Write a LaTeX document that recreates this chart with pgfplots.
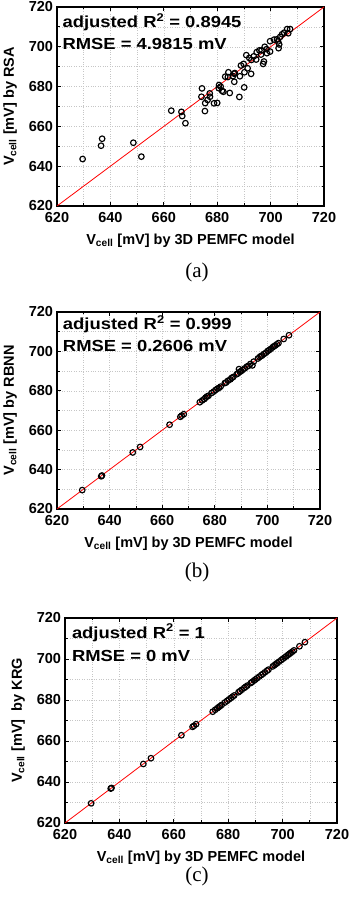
\documentclass[border=0pt]{standalone}
\usepackage{pgfplots}
\pgfplotsset{compat=1.18}
\usepackage{fontspec}
\setmainfont{Liberation Sans}
\newfontfamily\timesf{Liberation Serif}
\newfontfamily\annfont{Liberation Sans}[FakeStretch=1.15]

\pgfplotstableread{
x y
629.6 643.6
636.5 650.3
636.9 653.8
648.6 651.8
651.6 644.8
662.8 667.9
666.6 667.3
666.9 665.2
668.1 661.6
674.3 679.1
674.1 674.9
675.5 671.7
675.4 667.7
676.4 673.3
677.2 676.6
677.3 674.9
678.8 671.6
680.0 671.8
680.7 680.8
681.3 680.0
681.8 677.9
682.3 677.4
683.0 685.0
684.2 687.2
684.7 676.8
685.9 685.3
686.4 682.4
686.6 686.8
688.3 674.8
688.5 685.2
688.9 690.6
689.9 691.4
690.2 687.2
690.1 679.6
690.9 695.8
691.4 689.2
692.7 686.4
692.8 693.4
693.7 695.2
694.8 697.3
694.6 693.6
695.8 698.2
696.4 696.1
697.2 691.4
697.5 692.6
697.8 700.0
698.6 696.8
699.8 697.6
699.8 702.8
701.3 703.6
702.4 703.8
702.8 702.7
703.2 701.2
703.0 699.3
703.6 705.0
704.3 706.3
705.1 707.1
706.2 708.9
706.6 706.8
707.3 708.9
698.5 698.8
696.6 698.2
692.0 694.4
686.3 686.5
684.0 684.8
680.6 679.2
}\dataA

\pgfplotstableread{
x y
629.6 629.6
636.8 636.6
637.1 637.0
648.8 648.7
651.6 651.5
662.8 662.8
666.9 666.8
667.4 667.4
668.2 668.1
674.3 674.2
675.2 675.1
676.0 675.8
676.5 676.5
677.0 677.1
677.6 677.5
678.8 678.9
679.6 679.6
680.3 680.4
681.0 681.1
681.6 681.5
682.2 682.1
683.8 683.9
684.3 684.2
685.0 685.1
685.9 685.8
686.4 686.5
687.0 687.0
688.3 688.4
688.8 688.8
689.2 691.0
689.5 689.6
690.0 690.0
690.6 690.6
691.4 691.4
692.2 692.3
692.8 692.7
693.5 693.6
694.3 692.9
694.8 694.8
696.4 696.4
697.0 697.1
697.5 697.6
698.0 697.9
698.7 698.7
699.5 699.4
700.1 700.2
700.7 700.7
701.3 701.3
702.0 702.1
702.5 702.6
703.0 703.0
703.6 703.6
704.2 704.2
706.2 706.3
708.2 708.2
}\dataB

\pgfplotstableread{
x y
629.6 629.6
636.8 636.8
637.1 637.1
648.8 648.8
651.6 651.6
662.8 662.8
666.9 666.9
667.4 667.4
668.2 668.2
674.3 674.3
675.2 675.2
676.0 676.0
676.5 676.5
677.0 677.0
677.6 677.6
678.8 678.8
679.6 679.6
680.3 680.3
681.0 681.0
681.6 681.6
682.2 682.2
683.8 683.8
684.3 684.3
685.0 685.0
685.9 685.9
686.4 686.4
687.0 687.0
688.3 688.3
688.8 688.8
689.5 689.5
690.0 690.0
690.6 690.6
691.4 691.4
692.2 692.2
692.8 692.8
693.5 693.5
694.3 694.3
694.8 694.8
696.4 696.4
697.0 697.0
697.5 697.5
698.0 698.0
698.7 698.7
699.5 699.5
700.1 700.1
700.7 700.7
701.3 701.3
702.0 702.0
702.5 702.5
703.0 703.0
703.6 703.6
704.2 704.2
706.2 706.2
708.2 708.2
}\dataC

\pgfplotsset{
  myax/.style={
    scale only axis,
    anchor=south west,
    xmin=620, xmax=720, ymin=620, ymax=720,
    xtick={620,640,...,720}, ytick={620,640,...,720},
    minor x tick num=1, minor y tick num=1,
    grid=both,
    major grid style={gray!45, dotted, line width=0.5pt},
    minor grid style={gray!45, dotted, line width=0.5pt},
    axis line style={line width=1.1pt},
    tick style={black, line width=0.8pt},
    major tick length=4pt, minor tick length=2.5pt,
    /pgf/number format/assume math mode=true,
    /pgf/number format/1000 sep={},
    tick label style={font=\fontsize{14.5}{14.5}\bfseries\selectfont},
    xticklabel style={yshift=-3pt},
    yticklabel style={xshift=-0.5pt},
    label style={font=\fontsize{14.5}{14.5}\bfseries\selectfont},
    xlabel={V\textsubscript{cell} [mV] by 3D PEMFC model},
    xlabel style={yshift=-4pt},
    ylabel style={yshift=5pt},
  },
  myscat/.style={only marks, mark=o, mark size=2.8pt, mark options={black, line width=1.15pt}},
  myline/.style={red, line width=0.8pt, no marks},
}
\tikzset{ann/.style={anchor=base west, inner sep=0pt, font=\annfont\fontsize{16}{16}\bfseries\selectfont}}

\begin{document}
\begin{tikzpicture}
\path[use as bounding box] (0,0) rectangle (350pt,900pt);

% (a)
\begin{axis}[myax, at={(57pt,694pt)}, width=267pt, height=199pt,
  ylabel={V\textsubscript{cell} [mV] by RSA}]
\addplot[myline] coordinates {(620,620) (720,720)};
\addplot[myscat] table[x=x,y=y] {\dataA};
\node[ann] at (axis cs:622,709.8) {adjusted R\textsuperscript{2} = 0.8945};
\node[ann] at (axis cs:622,698.8) {RMSE = 4.9815 mV};
\end{axis}
\node[font=\timesf\fontsize{21}{21}\selectfont] at (197pt,628pt) {(a)};

% (b)
\begin{axis}[myax, at={(57pt,391pt)}, width=263pt, height=197pt,
  ylabel={V\textsubscript{cell} [mV] by RBNN}]
\addplot[myline] coordinates {(620,620) (720,720)};
\addplot[myscat] table[x=x,y=y] {\dataB};
\node[ann] at (axis cs:622.2,710.9) {adjusted R\textsuperscript{2} = 0.999};
\node[ann] at (axis cs:622.2,699.9) {RMSE = 0.2606 mV};
\end{axis}
\node[font=\timesf\fontsize{21}{21}\selectfont] at (197pt,328pt) {(b)};

% (c)
\begin{axis}[myax, at={(65pt,77pt)}, width=272pt, height=205pt,
  ylabel={V\textsubscript{cell} [mV]\ \ by KRG}]
\addplot[myline] coordinates {(620,620) (720,720)};
\addplot[myscat] table[x=x,y=y] {\dataC};
\node[ann] at (axis cs:622.5,710.2) {adjusted R\textsuperscript{2} = 1};
\node[ann] at (axis cs:622.5,698.8) {RMSE = 0 mV};
\end{axis}
\node[font=\timesf\fontsize{21}{21}\selectfont] at (197pt,24pt) {(c)};
\end{tikzpicture}
\end{document}
